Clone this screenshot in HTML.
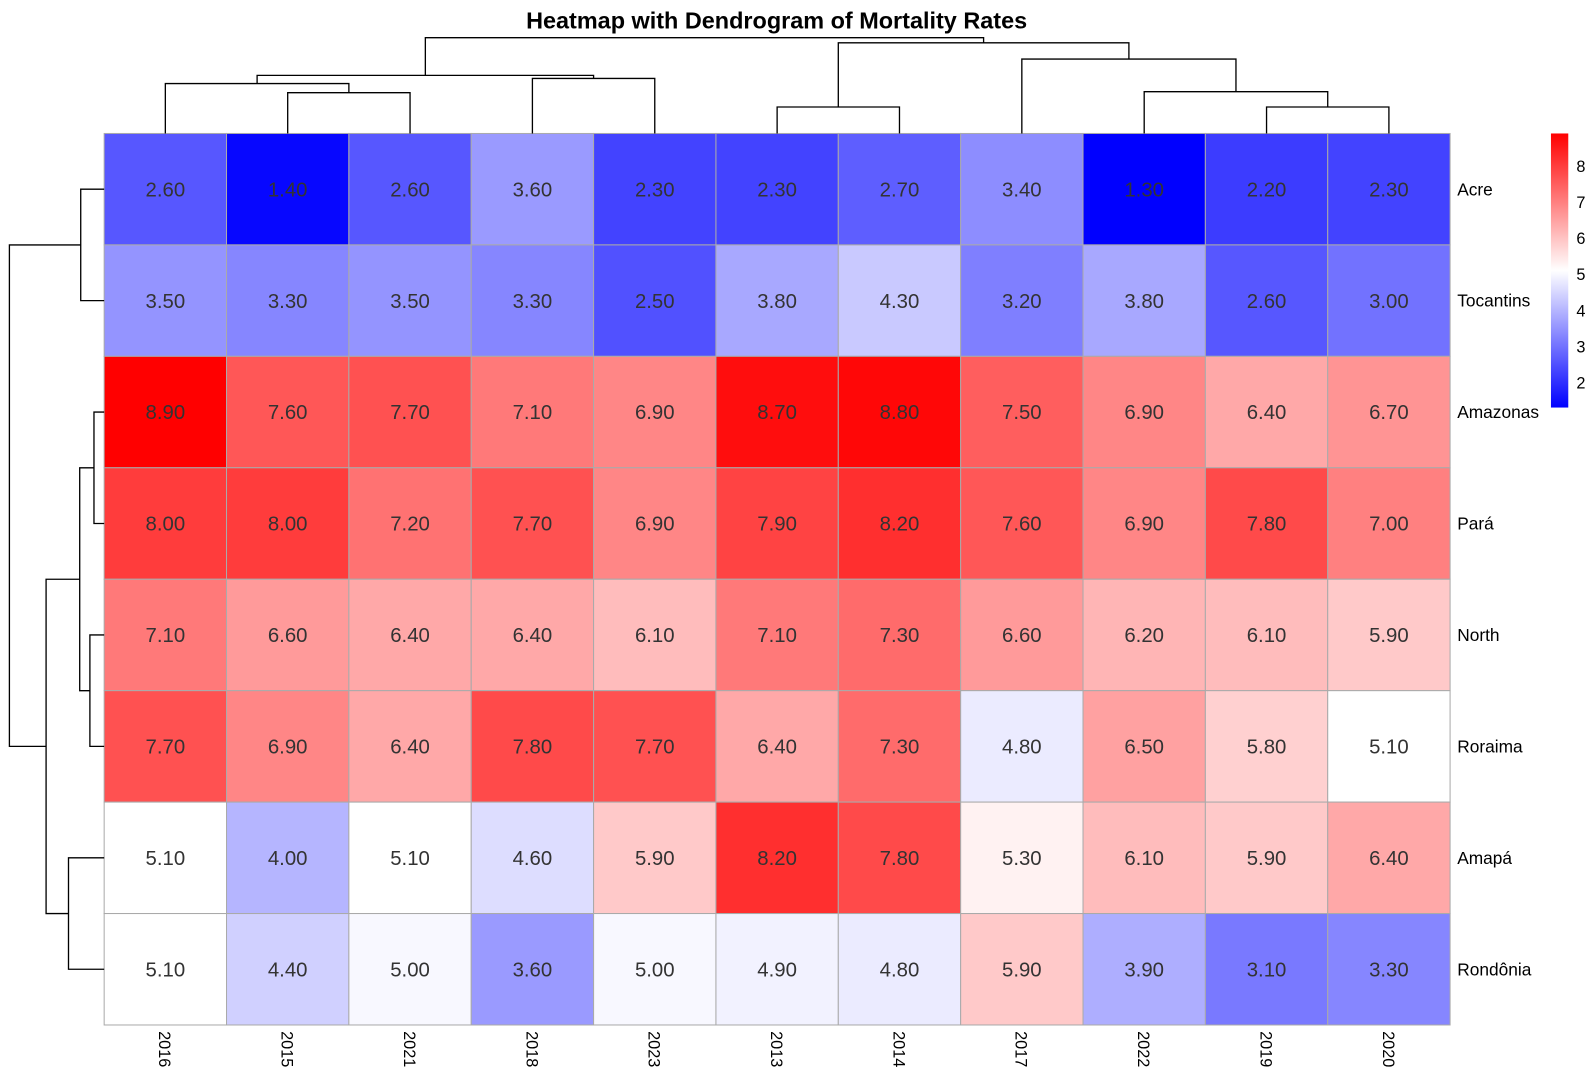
<!DOCTYPE html>
<html><head><meta charset="utf-8"><style>
html,body{margin:0;padding:0;background:#fff;}
svg{display:block;font-family:"Liberation Sans",Arial,sans-serif;}
</style></head><body>
<svg id="chart" width="1595" height="1080" viewBox="0 0 1565 1060" xmlns="http://www.w3.org/2000/svg">
<text x="762" y="28" text-anchor="middle" font-size="23" font-weight="bold" fill="#000">Heatmap with Dendrogram of Mortality Rates</text>
<g id="cells"></g><g id="dend" fill="none" stroke="#000" stroke-width="1.3"></g><g id="legend"></g>
</svg>
<script>
const years = ["2016","2015","2021","2018","2023","2013","2014","2017","2022","2019","2020"];
const regions = ["Acre","Tocantins","Amazonas","Pará","North","Roraima","Amapá","Rondônia"];
const valAcre = [2.6,1.4,2.6,3.6,2.3,2.3,2.7,3.4,1.3,2.2,2.3];
const valTocantins = [3.5,3.3,3.5,3.3,2.5,3.8,4.3,3.2,3.8,2.6,3.0];
const valAmazonas = [8.9,7.6,7.7,7.1,6.9,8.7,8.8,7.5,6.9,6.4,6.7];
const valPara = [8.0,8.0,7.2,7.7,6.9,7.9,8.2,7.6,6.9,7.8,7.0];
const valNorth = [7.1,6.6,6.4,6.4,6.1,7.1,7.3,6.6,6.2,6.1,5.9];
const valRoraima = [7.7,6.9,6.4,7.8,7.7,6.4,7.3,4.8,6.5,5.8,5.1];
const valAmapa = [5.1,4.0,5.1,4.6,5.9,8.2,7.8,5.3,6.1,5.9,6.4];
const valRondonia = [5.1,4.4,5.0,3.6,5.0,4.9,4.8,5.9,3.9,3.1,3.3];
const legendTicks = [2,3,4,5,6,7,8];
const vmin = 1.3, vmax = 8.9;

const rows=[valAcre,valTocantins,valAmazonas,valPara,valNorth,valRoraima,valAmapa,valRondonia];
const NS="http://www.w3.org/2000/svg";
const gx0=102, gx1=1423, gy0=131, gy1=1006;
const cw=(gx1-gx0)/years.length, ch=(gy1-gy0)/regions.length;
const xC=i=>gx0+cw*(i+0.5), yC=j=>gy0+ch*(j+0.5);
const vmid=(vmin+vmax)/2;
function color(v){
  let r,g,b;
  if(v<=vmid){const t=Math.max(0,(v-vmin)/(vmid-vmin));r=Math.round(255*t);g=r;b=255;}
  else{const t=Math.min(1,(vmax-v)/(vmax-vmid));r=255;g=Math.round(255*t);b=g;}
  return `rgb(${r},${g},${b})`;
}
function mk(tag,attrs,parent){const e=document.createElementNS(NS,tag);for(const k in attrs)e.setAttribute(k,attrs[k]);parent.appendChild(e);return e;}
const cells=document.getElementById('cells');
rows.forEach((row,j)=>{
  row.forEach((v,i)=>{
    const r=mk('rect',{x:gx0+cw*i,y:gy0+ch*j,width:cw,height:ch,fill:color(v),stroke:'#aaa','stroke-width':1},cells);
    
    
    const t=mk('text',{x:xC(i),y:yC(j)+7,'text-anchor':'middle','font-size':20,fill:'#333'},cells);
    t.textContent=v.toFixed(2);
    
    
  });
});
regions.forEach((r,j)=>{
  const t=mk('text',{x:1430,y:yC(j)+6,'font-size':17,fill:'#000'},cells);
  t.textContent=r;
  
  
});
years.forEach((y,i)=>{
  const t=mk('text',{x:0,y:0,transform:`translate(${xC(i)-6},1012) rotate(90)`,'font-size':16,fill:'#000'},cells);
  t.textContent=y;
  
  
});
const colMerges=[[1,2,91],[0,'n0',82],[3,4,77],['n1','n2',74],[5,6,105],[9,10,105],[8,'n5',90],[7,'n6',58],['n4','n7',42],['n3','n8',37]];
const rowMerges=[[0,1,79],[2,3,92],[4,5,88],['n1','n2',78],[6,7,67],['n3','n4',45],['n0','n5',9]];
const dend=document.getElementById('dend');
function draw(merges,pos,base,vertical){
  const nodes=[];
  const get=a=>typeof a==='number'?{p:pos(a),h:base}:nodes[+a.slice(1)];
  merges.forEach(m=>{
    const A=get(m[0]),B=get(m[1]),h=m[2];
    const d=vertical?`M${A.p},${A.h}V${h}H${B.p}V${B.h}`:`M${A.h},${A.p}H${h}V${B.p}H${B.h}`;
    const p=mk('path',{d},dend);
    
    
    nodes.push({p:(A.p+B.p)/2,h});
  });
}
draw(colMerges,xC,gy0,true);
draw(rowMerges,yC,gx0,false);
const lg=document.getElementById('legend');
const defs=mk('defs',{},lg);
const grad=mk('linearGradient',{id:'lgr',x1:0,y1:1,x2:0,y2:0},defs);
mk('stop',{offset:'0%','stop-color':'rgb(0,0,255)'},grad);
mk('stop',{offset:'50%','stop-color':'#fff'},grad);
mk('stop',{offset:'100%','stop-color':'rgb(255,0,0)'},grad);
const lt=131, lb=400;
const ly=v=>lb-(v-vmin)/(vmax-vmin)*(lb-lt);
const bar=mk('rect',{x:1522,y:lt,width:17,height:lb-lt,fill:'url(#lgr)'},lg);


legendTicks.forEach(v=>{
  const t=mk('text',{x:1547,y:ly(v)+6,'font-size':16,fill:'#000'},lg);
  t.textContent=v;
  
  
});
</script>
</body></html>
